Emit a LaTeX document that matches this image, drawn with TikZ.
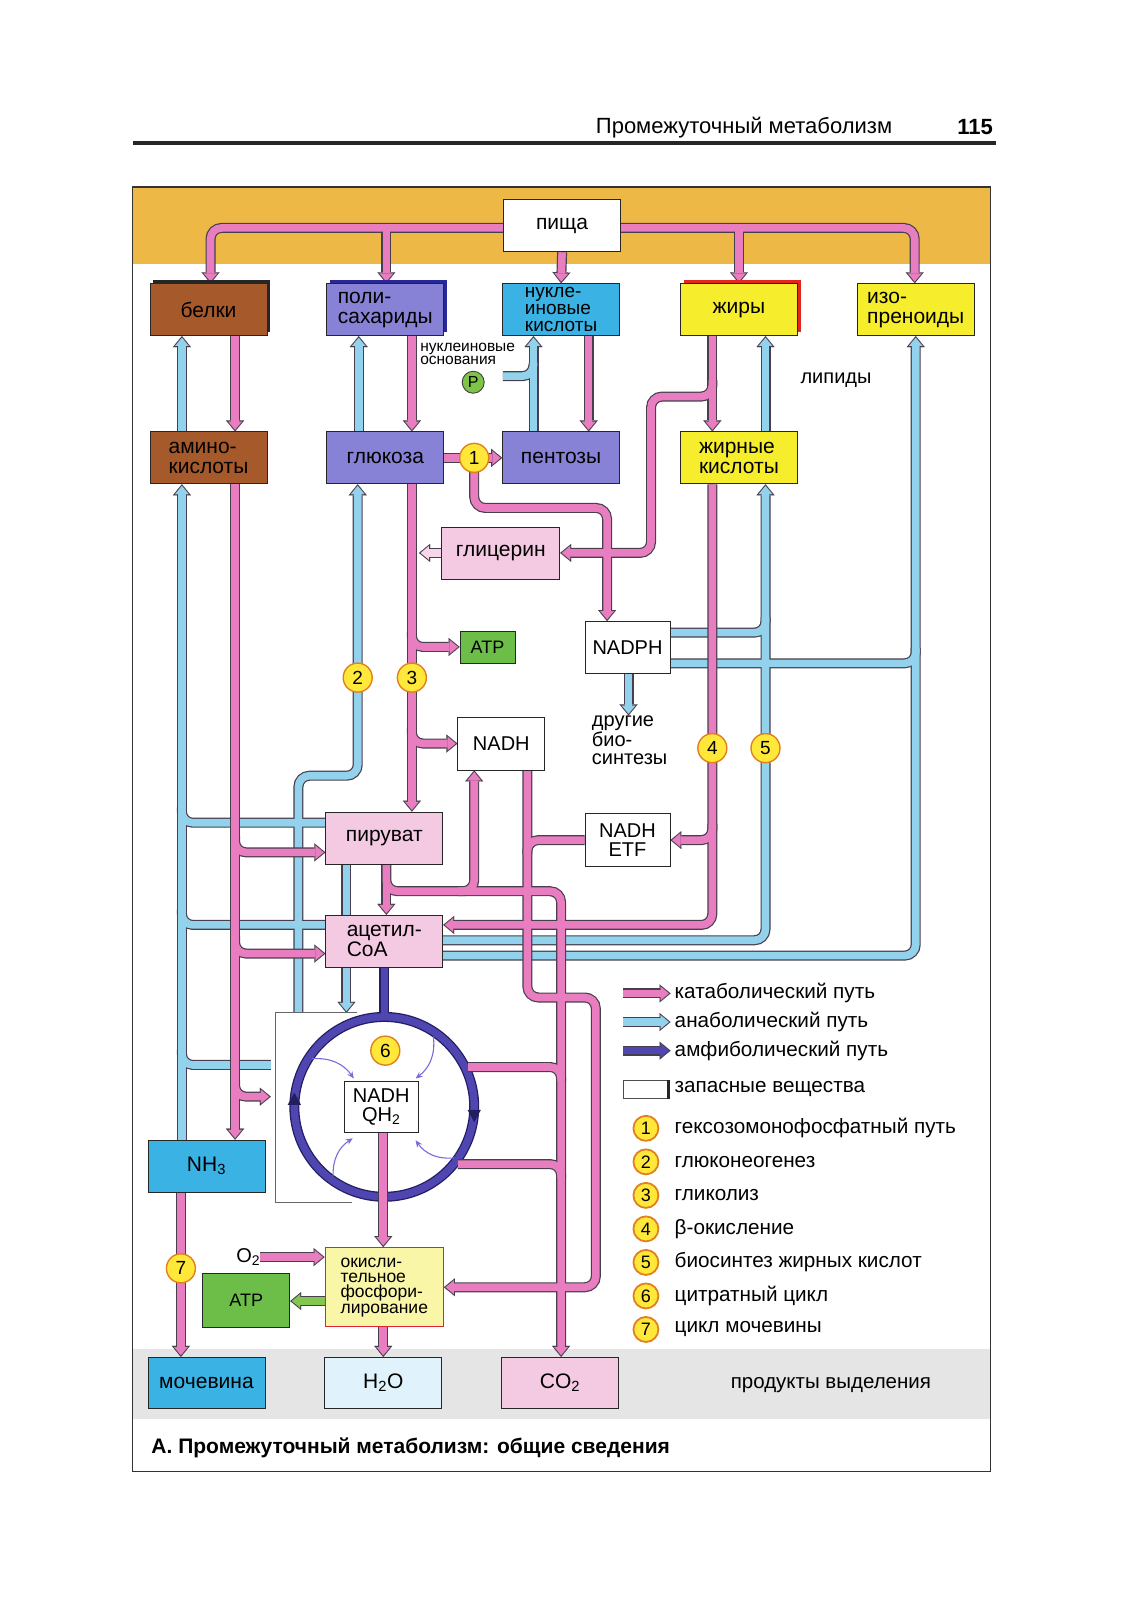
\documentclass[tikz,border=0pt]{standalone}
\usepackage{fontspec}
\setmainfont{Liberation Sans}
\usetikzlibrary{arrows.meta,shadows}

\definecolor{band}{RGB}{238,184,70}
\definecolor{exband}{RGB}{229,229,229}
\definecolor{protein}{RGB}{166,90,44}
\definecolor{sugar}{RGB}{136,130,214}
\definecolor{nucleic}{RGB}{58,178,228}
\definecolor{lipid}{RGB}{246,238,44}
\definecolor{metab}{RGB}{244,202,226}
\definecolor{energy}{RGB}{108,190,72}
\definecolor{h2ofill}{RGB}{224,242,251}
\definecolor{oxfill}{RGB}{250,246,168}
\definecolor{oxedge}{RGB}{222,36,48}
\definecolor{catpink}{RGB}{232,126,192}
\definecolor{anablue}{RGB}{146,210,236}
\definecolor{rimgray}{RGB}{72,62,78}
\definecolor{amphi}{RGB}{80,70,178}
\definecolor{amphidark}{RGB}{35,30,95}
\definecolor{thinviolet}{RGB}{118,108,222}
\definecolor{numfill}{RGB}{255,232,58}
\definecolor{numedge}{RGB}{226,128,32}
\definecolor{glyclight}{RGB}{248,214,234}
\definecolor{atplight}{RGB}{130,200,80}
\definecolor{pgreen}{RGB}{125,196,72}
\definecolor{shadowblue}{RGB}{40,40,150}
\definecolor{shadowred}{RGB}{225,40,30}

\pgfdeclarelayer{back}
\pgfdeclarelayer{blrim}
\pgfdeclarelayer{blcore}
\pgfdeclarelayer{pkrim}
\pgfdeclarelayer{pkcore}
\pgfsetlayers{back,blrim,blcore,pkrim,pkcore,main}

\newcommand\fsz[2]{\fontsize{#1}{#2}\selectfont}
% pipe = dark rim underneath, coloured core on top
\newcommand\flowpipe[4][]{%
  \begin{pgfonlayer}{#2rim}\draw[piperim,#1] #4;\end{pgfonlayer}%
  \begin{pgfonlayer}{#2core}\draw[pipecore,draw=#3,#1] #4;\end{pgfonlayer}}
\newcommand\catpipe[2][]{\flowpipe[#1]{pk}{catpink}{#2}}
\newcommand\anapipe[2][]{\flowpipe[#1]{bl}{anablue}{#2}}

\tikzset{
  metabox/.style={draw=black!85, line width=0.8pt, minimum width=117pt, minimum height=52pt,
    inner sep=1pt, align=left, font=\fsz{21pt}{20pt}},
  smallbox/.style={metabox, fill=white, align=center, minimum width=85pt, font=\fsz{20pt}{19pt}},
  stockshadow/.style={drop shadow={shadow xshift=3.5pt, shadow yshift=3.5pt, opacity=1, fill=#1}},
  numc/.style={circle, draw=numedge, line width=1.4pt, fill=numfill, minimum size=29pt,
    inner sep=0pt, font=\fsz{19pt}{19pt}},
  keynum/.style={numc, minimum size=25pt, line width=1.8pt, font=\fsz{18pt}{18pt}},
  keytext/.style={anchor=west, inner sep=0pt, font=\fsz{20.7pt}{20.7pt}},
  freetext/.style={inner sep=0pt, font=\fsz{20pt}{18.4pt}, align=left},
  piperim/.style={line width=10pt, draw=rimgray, rounded corners=11pt,
    arrowed/.style={-{Triangle[length=11pt,width=18pt,line width=0.01pt]}}},
  pipecore/.style={line width=7.6pt, rounded corners=11pt,
    arrowed/.style={-{Triangle[length=8.2pt,width=13.6pt,line width=0.01pt]}, shorten >=1.7pt}},
  cyclearrow/.style={draw=thinviolet, line width=1.1pt, -{Stealth[length=7pt,width=6pt]}},
}

\begin{document}
\begin{tikzpicture}[x=1.022pt,y=-1.022pt]
\useasboundingbox (0,0) rectangle (1107.6,1566.5);

%running head
\node[font=\fsz{22pt}{22pt}] (runhead) at (728,125) {Промежуточный метаболизм};
\node[font=\fsz{22pt}{22pt}\bfseries] (pageno) at (954,124) {115};
\draw[line width=3.5pt, black!85] (130,140) -- (975,140);

%bands
\begin{pgfonlayer}{back}
\fill[band] (130,183) rectangle (969,258);
\fill[exband] (130,1320) rectangle (969,1388);
\end{pgfonlayer}
\draw[line width=1.2pt, black!80] (130,183) rectangle (969,1440);

%food
\node[metabox, fill=white, align=center] (food) at (550,221) {пища};
%stores and polymers
\node[metabox, fill=protein, stockshadow=black!85] (protein) at (204,303) {белки};
\node[metabox, fill=sugar, stockshadow=shadowblue] (poly) at (377,303) {поли-\\сахариды};
\node[metabox, fill=nucleic, font=\fsz{19pt}{17pt}] (nucl) at (549,303) {нукле-\\иновые\\кислоты};
\node[metabox, fill=lipid, stockshadow=shadowred] (fats) at (723,303) {жиры};
\node[metabox, fill=lipid] (izo) at (896,303) {изо-\\преноиды};
%monomers
\node[metabox, fill=protein] (amino) at (204,448) {амино-\\кислоты};
\node[metabox, fill=sugar] (glucose) at (377,448) {глюкоза};
\node[metabox, fill=sugar] (pentose) at (549,448) {пентозы};
\node[metabox, fill=lipid] (fatty) at (723,448) {жирные\\кислоты};
\node[metabox, fill=metab, minimum width=118pt] (glycerol) at (490,541) {глицерин};
%carriers
\node[metabox, fill=energy, align=center, minimum width=55pt, minimum height=32pt,
  font=\fsz{18pt}{18pt}] (atpa) at (477,633) {ATP};
\node[smallbox] (nadph) at (614,633.5) {NADPH};
\node[smallbox, minimum width=87pt, minimum height=53pt] (nadh) at (490.5,727.5) {NADH};
\node[smallbox, minimum height=53pt] (etf) at (614,822) {NADH\\ETF};
%central
\node[metabox, fill=metab] (pyruvate) at (376,820) {пируват};
\node[metabox, fill=metab] (acetyl) at (376,921) {ацетил-\\CoA};
\node[smallbox, minimum width=74pt, minimum height=51pt] (qh) at (373,1083.5) {NADH\\QH\textsubscript{2}};
\node[metabox, fill=nucleic, align=center] (nh3) at (202,1141) {NH\textsubscript{3}};
\node[metabox, fill=oxfill, draw=oxedge, line width=1.3pt, minimum width=118pt, minimum height=79pt,
  font=\fsz{17.5pt}{15.3pt}] (oxphos) at (376,1259.5) {окисли-\\тельное\\фосфори-\\лирование};
\node[metabox, fill=energy, align=center, minimum width=87pt, minimum height=54pt,
  font=\fsz{18pt}{18pt}] (atpb) at (241,1272) {ATP};
%excretion
\node[metabox, fill=nucleic, minimum height=51pt] (urea) at (202,1353) {мочевина};
\node[metabox, fill=h2ofill, align=center, minimum height=51pt] (water) at (375,1353) {H\textsubscript{2}O};
\node[metabox, fill=metab, align=center, minimum height=51pt] (co2) at (548,1353) {CO\textsubscript{2}};

%labels
\node[freetext, anchor=north west, font=\fsz{15.5pt}{12.8pt}] (bases) at (411,336) {нуклеиновые\\основания};
\node[circle, draw=black!75, line width=0.9pt, fill=pgreen, minimum size=22pt, inner sep=0pt,
  font=\fsz{16pt}{16pt}] (phos) at (463,374) {P};
\node[freetext] (lipids) at (818,372) {липиды};
\node[freetext, anchor=north west] (other) at (579,700) {другие\\био-\\синтезы};
\node[freetext] (o2) at (243,1230) {O\textsubscript{2}};
\node[freetext, font=\fsz{20.5pt}{20.5pt}] (exlabel) at (813,1355) {продукты выделения};

%pathway numbers
\node[numc] (n1) at (464,448) {1};
\node[numc] (n2) at (350,663) {2};
\node[numc] (n3) at (403,663) {3};
\node[numc] (n4) at (697,732) {4};
\node[numc] (n5) at (749,732) {5};
\node[numc] (n6) at (377,1028) {6};
\node[numc] (n7) at (177,1241) {7};

\coordinate (storeNW) at (269,991);
\coordinate (storeSW) at (269,1176);
\coordinate (storeW1) at (265,1042);
\coordinate (storeW2) at (265,1073);
\coordinate (cycle) at (376,1083);
\coordinate (cyclemouth) at (376,996);
\coordinate (glycTip) at (410,541);
\coordinate (pStub) at (492,368);
\coordinate (cyc1) at (305,1036);
\coordinate (cyc2) at (424,1014);
\coordinate (cyc3) at (326,1151);
\coordinate (cyc4) at (444,1133);

%storage bracket
\draw[line width=0.8pt, black!60] (349,991) -- (storeNW) -- (storeSW) -- (344,1176);

%citrate cycle
\begin{pgfonlayer}{back}
\draw[line width=10pt, amphidark] (acetyl.south) -- (cyclemouth);
\draw[line width=10pt, amphidark] (cycle) circle[radius=88];
\draw[line width=7.4pt, amphi] (acetyl.south) -- (cyclemouth);
\draw[line width=7.4pt, amphi] (cycle) circle[radius=88];
\fill[amphidark] (281.5,1081) -- (294.5,1081) -- (288,1069) -- cycle;
\fill[amphidark] (457.5,1086) -- (470.5,1086) -- (464,1098) -- cycle;
\end{pgfonlayer}
\draw[cyclearrow] (cyc1) to[bend left=30] ([xshift=10pt,yshift=3pt]qh.north west);
\draw[cyclearrow] (cyc2) to[bend left=30] ([xshift=-3pt,yshift=3pt]qh.north east);
\draw[cyclearrow] (cyc3) to[bend left=30] ([xshift=9pt,yshift=-5pt]qh.south west);
\draw[cyclearrow] (cyc4) to[bend left=30] ([xshift=-3pt,yshift=-7pt]qh.south east);

%anabolic
\anapipe[arrowed]{(178,0 |- amino.north) -- (178,0 |- protein.south)}
\anapipe[arrowed]{(178,0 |- nh3.north) -- (178,0 |- amino.south)}
\anapipe{(pyruvate.west |- 0,805) -| (178,790)}
\anapipe{(acetyl.west |- 0,905) -| (178,890)}
\anapipe{(storeW1) -| (178,1027)}
\anapipe[arrowed]{(351,0 |- glucose.north) -- (351,0 |- poly.south)}
\anapipe[arrowed]{(292,0 |- storeNW) |- (350,759) -- (350,0 |- glucose.south)}
\anapipe[arrowed]{(339,0 |- pyruvate.south) -- (339,0 |- storeNW)}
\anapipe[arrowed]{(522,0 |- pentose.north) -- (522,0 |- nucl.south)}
\anapipe{(pStub) -| (522,355)}
\anapipe[arrowed]{(615,0 |- nadph.south) -- (615,0 |- other.north)}
\anapipe{(nadph.east |- 0,619) -| (749,604)}
\anapipe{(nadph.east |- 0,649) -| (896,634)}
\anapipe[arrowed]{(acetyl.east |- 0,920) -| (749,0 |- fatty.south)}
\anapipe[arrowed]{(acetyl.east |- 0,935) -| (896,0 |- izo.south)}
\anapipe[arrowed]{(749,0 |- fatty.north) -- (749,0 |- fats.south)}

%catabolic
\catpipe[arrowed]{(food.center |- 0,223) -| (206,0 |- protein.north)}
\catpipe[arrowed]{(378,223) -- (378,0 |- poly.north)}
\catpipe[arrowed]{(food.south) -- (nucl.north)}
\catpipe[arrowed]{(food.center |- 0,223) -| (895,0 |- izo.north)}
\catpipe[arrowed]{(723,223) -- (723,0 |- fats.north)}
\catpipe[arrowed]{(230,0 |- protein.south) -- (230,0 |- amino.north)}
\catpipe[arrowed]{(403,0 |- poly.south) -- (403,0 |- glucose.north)}
\catpipe[arrowed]{(576,0 |- nucl.south) -- (576,0 |- pentose.north)}
\catpipe[arrowed]{(697,0 |- fats.south) -- (697,0 |- fatty.north)}
\catpipe[arrowed]{(697,372) |- (637,388) |- (glycerol.east)}
\catpipe[arrowed]{(glucose.east) -- (pentose.west)}
\catpipe[arrowed]{(n1.center) |- (594,497) -- (594,0 |- nadph.north)}
\catpipe[arrowed]{(403,0 |- glucose.south) -- (403,0 |- pyruvate.north)}
\catpipe[arrowed]{(403,618) |- (atpa.west)}
\catpipe[arrowed]{(403,712) |- (nadh.west)}
\catpipe[arrowed]{(230,0 |- amino.south) -- (230,0 |- nh3.north)}
\catpipe[arrowed]{(230,818) |- (pyruvate.west |- 0,834)}
\catpipe[arrowed]{(230,916) |- (acetyl.west |- 0,933)}
\catpipe[arrowed]{(230,1057) |- (storeW2)}
\catpipe[arrowed]{(378,0 |- pyruvate.south) -- (378,0 |- acetyl.north)}
\catpipe[arrowed]{(378,0 |- pyruvate.south) |- (549,872) -- (549,0 |- co2.north)}
\catpipe[arrowed]{(448,872) -| (464,0 |- nadh.south)}
\catpipe[arrowed]{(516,0 |- nadh.south) |- (583,976) |- (oxphos.east)}
\catpipe{(etf.west) -| (516,836)}
\catpipe{(458,1044) -| (549,1058)}
\catpipe{(448,1139) -| (549,1153)}
\catpipe[arrowed]{(697,0 |- fatty.south) |- (acetyl.east |- 0,905)}
\catpipe[arrowed]{(697,806) |- (etf.east)}
\catpipe[arrowed]{(177,0 |- nh3.south) -- (177,0 |- urea.north)}
\catpipe[arrowed]{(o2.east) -- (oxphos.west |- o2.east)}
\catpipe[arrowed]{(375,0 |- qh.south) -- (375,0 |- oxphos.north)}
\catpipe[arrowed]{(375,0 |- oxphos.south) -- (375,0 |- water.north)}
\flowpipe[arrowed]{pk}{glyclight}{(glycerol.west) -- (glycTip)}
\flowpipe[arrowed]{pk}{atplight}{(oxphos.west |- 0,1273) -- (atpb.east |- 0,1273)}

%key
\coordinate (kcat) at (610,972);
\coordinate (kana) at (610,1000);
\coordinate (kamph) at (610,1028);
\node[keytext] (legcat) at (660,972) {катаболический путь};
\node[keytext] (legana) at (660,1000) {анаболический путь};
\node[keytext] (legamph) at (660,1028) {амфиболический путь};
\catpipe[arrowed]{(kcat) -- ([xshift=-4pt]legcat.west)}
\anapipe[arrowed]{(kana) -- ([xshift=-4pt]legana.west)}
\flowpipe[arrowed]{pk}{amphi}{(kamph) -- ([xshift=-4pt]legamph.west)}
\node[draw=black!70, line width=0.8pt, fill=white, minimum width=45pt, minimum height=18pt,
  inner sep=0pt] (legstore) at (632,1066) {};
\draw[line width=3pt, black!85] (legstore.north east) -- (legstore.south east);
\node[keytext] (legstoretxt) at (660,1066) {запасные вещества};
\foreach \n/\txt [count=\i from 0] in {1/гексозомонофосфатный путь, 2/глюконеогенез,
    3/гликолиз, 4/β-окисление, 5/биосинтез жирных кислот, 6/цитратный цикл, 7/цикл мочевины}{
  \node[keynum] (key\n) at (632,1104+32.8*\i) {\n};
  \node[keytext] (keytxt\n) at (660,1104+32.8*\i) {\txt};
}

%caption
\node[anchor=west, inner sep=0pt, font=\fsz{21pt}{21pt}\bfseries] (caption) at (148,1417)
  {А. Промежуточный метаболизм: общие сведения};
\end{tikzpicture}
\end{document}
